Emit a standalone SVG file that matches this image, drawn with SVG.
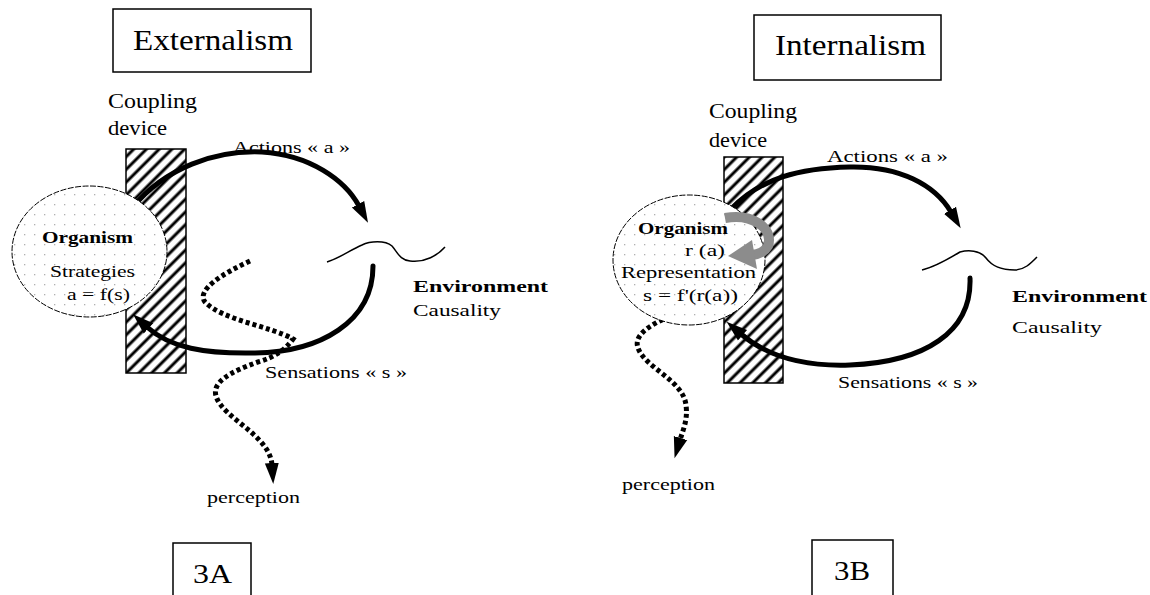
<svg xmlns="http://www.w3.org/2000/svg" width="1150" height="595" viewBox="0 0 1150 595">
<style>
text{font-family:"Liberation Serif","Times New Roman",serif;fill:#000}
.title{font-size:30px}
.lbl{font-size:21px}
.sm{font-size:17px}
.b{font-weight:bold}
.box{fill:#fff;stroke:#000;stroke-width:1.5}
.hatch{fill:url(#hatch);stroke:#000;stroke-width:1.5}
.org{fill:url(#dots);stroke:#000;stroke-width:1;stroke-dasharray:6 1.5}
.solid{fill:none;stroke:#000;stroke-width:5;stroke-linecap:round;marker-end:url(#head)}
.dotted{fill:none;stroke:#000;stroke-width:5;stroke-dasharray:4 3;marker-end:url(#head)}
.wave{fill:none;stroke:#000;stroke-width:1.5}
</style>
<defs>
<pattern id="hatch" patternUnits="userSpaceOnUse" width="9" height="9" patternTransform="rotate(45)">
<rect width="9" height="9" fill="#fff"/>
<line x1="2" y1="0" x2="2" y2="9" stroke="#000" stroke-width="3"/>
</pattern>
<pattern id="dots" patternUnits="userSpaceOnUse" width="10" height="10">
<rect width="10" height="10" fill="#fff"/>
<rect x="4" y="4" width="1.3" height="1.3" fill="#b0b0b0"/>
</pattern>
<marker id="head" markerUnits="userSpaceOnUse" markerWidth="24" markerHeight="18" refX="2" refY="8" orient="auto" viewBox="0 0 24 16">
<path d="M0,1 L21,8 L0,15 Z" fill="#000"/>
</marker>
</defs>

<g id="title-ext"><rect class="box" x="113" y="9" width="198" height="63"/><text class="title" x="133" y="50" textLength="160" lengthAdjust="spacingAndGlyphs">Externalism</text></g>
<g id="title-int"><rect class="box" x="754" y="15" width="187" height="65"/><text class="title" x="775" y="55" textLength="151" lengthAdjust="spacingAndGlyphs">Internalism</text></g>

<g id="coupling-a"><rect class="hatch" x="126" y="149" width="60" height="224"/><text class="lbl" x="108" y="108" textLength="89" lengthAdjust="spacingAndGlyphs">Coupling</text><text class="lbl" x="108" y="135" textLength="59" lengthAdjust="spacingAndGlyphs">device</text></g>
<g id="coupling-b"><rect class="hatch" x="724" y="157" width="59" height="226"/><text class="lbl" x="709" y="118" textLength="88" lengthAdjust="spacingAndGlyphs">Coupling</text><text class="lbl" x="709" y="147" textLength="58" lengthAdjust="spacingAndGlyphs">device</text></g>

<g id="env-a"><path class="wave" d="M327,262 C340,258 350,250 362,245 C370,241 385,240 392,246 C398,253 400,260 410,261 C425,263 438,255 445,247"/><text class="sm b" x="413" y="292" textLength="135" lengthAdjust="spacingAndGlyphs">Environment</text><text class="sm" x="413" y="316" textLength="88" lengthAdjust="spacingAndGlyphs">Causality</text></g>
<g id="env-b"><path class="wave" d="M922,270 C935,267 950,258 960,252 C968,250 980,250 986,258 C992,266 1000,270 1015,270 C1025,270 1032,262 1037,257"/><text class="sm b" x="1012" y="302" textLength="135" lengthAdjust="spacingAndGlyphs">Environment</text><text class="sm" x="1012" y="333" textLength="90" lengthAdjust="spacingAndGlyphs">Causality</text></g>

<g id="connectors">
<path class="solid" d="M133,207 C165,168 215,150 262,152 C310,155 345,180 359,206"/>
<path class="solid" d="M373,266 C373,322 320,352 255,353 C205,354 170,348 147,327"/>
<path class="dotted" d="M250,261 C222,274 196,290 205,302 C222,320 270,326 293,339 C285,350 275,357 258,362 C230,372 212,382 216,396 C222,418 270,435 272,465"/>
<path class="solid" d="M730,210 C760,178 800,168 850,167 C900,166 935,185 951,212"/>
<path class="solid" d="M970,278 C972,332 925,362 850,365 C795,367 762,352 741,334"/>
<path class="dotted" d="M682,311 C660,320 632,332 638,348 C645,368 683,380 686,405 C688,420 683,430 680,440"/>
</g>

<g id="organism-a"><ellipse class="org" cx="89.5" cy="251.5" rx="77.5" ry="65.5"/><text class="sm b" x="42" y="243" textLength="91" lengthAdjust="spacingAndGlyphs">Organism</text><text class="sm" x="50" y="277" textLength="85" lengthAdjust="spacingAndGlyphs">Strategies</text><text class="sm" x="67" y="300" textLength="63" lengthAdjust="spacingAndGlyphs">a = f(s)</text></g>
<g id="organism-b"><ellipse class="org" cx="689" cy="260" rx="76" ry="65"/>
<path d="M725,218 C752,213 774,228 768,246 C765,251 760,254 752,255" fill="none" stroke="#8c8c8c" stroke-width="10"/>
<path d="M728,256 L752,240 L757,269 Z" fill="#8c8c8c"/>
<text class="sm b" x="638" y="234" textLength="90" lengthAdjust="spacingAndGlyphs">Organism</text><text class="sm" style="font-size:16px" x="685" y="256" textLength="40" lengthAdjust="spacingAndGlyphs">r (a)</text><text class="sm" x="621" y="278" textLength="135" lengthAdjust="spacingAndGlyphs">Representation</text><text class="sm" x="643" y="301" textLength="95" lengthAdjust="spacingAndGlyphs">s = f'(r(a))</text></g>

<g id="labels">
<text class="sm" x="233" y="153" textLength="117" lengthAdjust="spacingAndGlyphs">Actions « a »</text>
<text class="sm" x="265" y="378" textLength="142" lengthAdjust="spacingAndGlyphs">Sensations « s »</text>
<text class="sm" x="207" y="503" textLength="93" lengthAdjust="spacingAndGlyphs">perception</text>
<text class="sm" x="827" y="162" textLength="121" lengthAdjust="spacingAndGlyphs">Actions « a »</text>
<text class="sm" x="838" y="388" textLength="140" lengthAdjust="spacingAndGlyphs">Sensations « s »</text>
<text class="sm" x="622" y="490" textLength="93" lengthAdjust="spacingAndGlyphs">perception</text>
</g>

<g id="fig-3a"><rect class="box" x="173" y="543" width="78" height="60"/><text class="title" style="font-size:28px" x="193" y="583" textLength="39" lengthAdjust="spacingAndGlyphs">3A</text></g>
<g id="fig-3b"><rect class="box" x="812" y="540" width="81" height="63"/><text class="title" style="font-size:28px" x="834" y="580" textLength="36" lengthAdjust="spacingAndGlyphs">3B</text></g>
</svg>
